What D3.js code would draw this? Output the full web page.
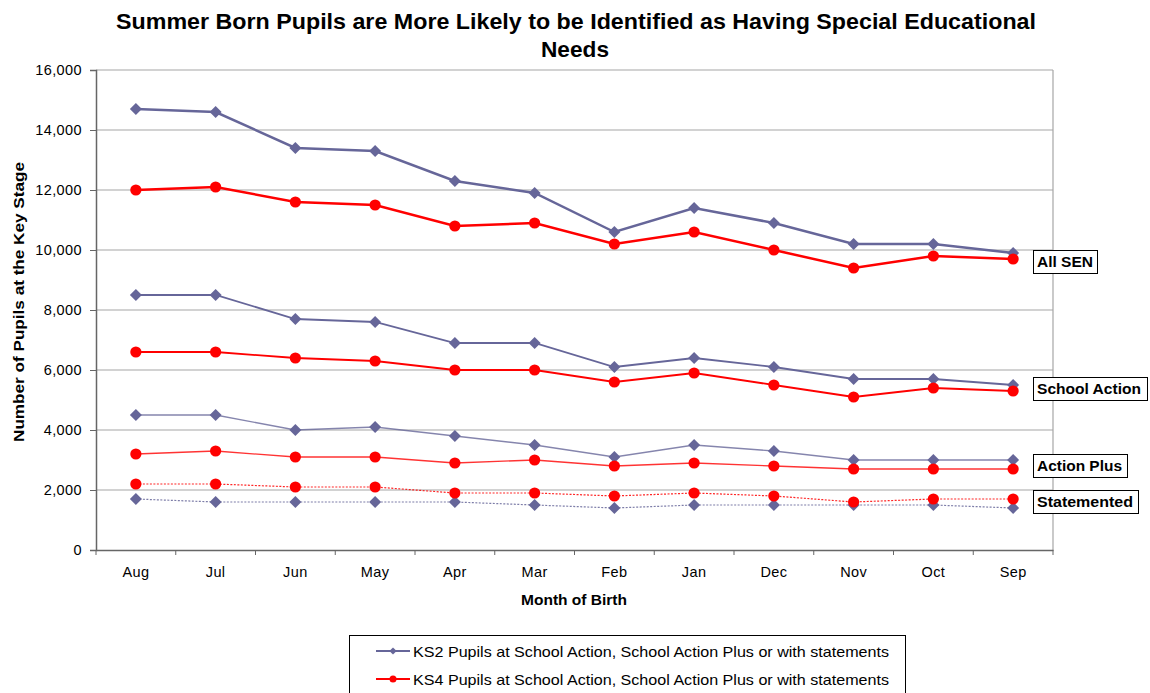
<!DOCTYPE html>
<html><head><meta charset="utf-8">
<script src="https://cdn.jsdelivr.net/npm/d3@7/dist/d3.min.js"></script>
<style>body{margin:0;background:#fff;font-family:"Liberation Sans",Arial,sans-serif;}</style>
</head><body><svg id="c" width="1150" height="693"></svg>
<script>
const months = ["Aug","Jul","Jun","May","Apr","Mar","Feb","Jan","Dec","Nov","Oct","Sep"];
const yTicks = [0,2000,4000,6000,8000,10000,12000,14000,16000];
const ks2AllSEN       = [14700,14600,13400,13300,12300,11900,10600,11400,10900,10200,10200,9900];
const ks4AllSEN       = [12000,12100,11600,11500,10800,10900,10200,10600,10000,9400,9800,9700];
const ks2SchoolAction = [8500,8500,7700,7600,6900,6900,6100,6400,6100,5700,5700,5500];
const ks4SchoolAction = [6600,6600,6400,6300,6000,6000,5600,5900,5500,5100,5400,5300];
const ks2ActionPlus   = [4500,4500,4000,4100,3800,3500,3100,3500,3300,3000,3000,3000];
const ks4ActionPlus   = [3200,3300,3100,3100,2900,3000,2800,2900,2800,2700,2700,2700];
const ks2Statemented  = [1700,1600,1600,1600,1600,1500,1400,1500,1500,1500,1500,1400];
const ks4Statemented  = [2200,2200,2100,2100,1900,1900,1800,1900,1800,1600,1700,1700];
const groupLabels = ["All SEN","School Action","Action Plus","Statemented"];
const legendLabels = ["KS2 Pupils at School Action, School Action Plus or with statements",
                      "KS4 Pupils at School Action, School Action Plus or with statements"];

const BLUE = "#666699", RED = "#ff0000";
const svg = d3.select("#c");
const L = 96, R = 1053, T = 70, B = 550;
const x = d3.scaleBand().domain(months).range([L, R]);
const y = d3.scaleLinear().domain([0, 16000]).range([B, T]);

// title
svg.append("text").attr("x", 576).attr("y", 29).attr("text-anchor","middle")
  .attr("textLength", 920).attr("lengthAdjust","spacingAndGlyphs")
  .style("font-weight","bold").style("font-size","22px").text("Summer Born Pupils are More Likely to be Identified as Having Special Educational");
svg.append("text").attr("x", 575).attr("y", 57).attr("text-anchor","middle")
  .attr("textLength", 68).attr("lengthAdjust","spacingAndGlyphs")
  .style("font-weight","bold").style("font-size","22px").text("Needs");

// gridlines
svg.append("g").selectAll("line").data(yTicks.filter(d => d > 0)).join("line")
  .attr("x1", L).attr("x2", R).attr("y1", d => y(d)).attr("y2", d => y(d))
  .attr("stroke", "#a6a6a6").attr("stroke-width", 1.2);
svg.append("line").attr("x1", R).attr("x2", R).attr("y1", T).attr("y2", B).attr("stroke", "#a6a6a6").attr("stroke-width", 1.2);

// y axis
const yAx = svg.append("g").attr("transform", `translate(${L},0)`)
  .call(d3.axisLeft(y).tickValues(yTicks).tickSize(6).tickPadding(8).tickFormat(d3.format(",")));
yAx.select(".domain").attr("stroke", "#666").attr("stroke-width", 1.5);
yAx.selectAll(".tick line").attr("stroke", "#666");
yAx.selectAll("text").style("font-size","14.5px").style("letter-spacing","0.4px")
  .style("font-family","Liberation Sans, Arial").attr("fill","#000");

// x axis
const xAx = svg.append("g").attr("transform", `translate(0,${B})`)
  .call(d3.axisBottom(x).tickSize(0).tickPadding(17));
xAx.select(".domain").attr("stroke", "#666").attr("stroke-width", 1.5);
xAx.selectAll("text").style("font-size","14.5px").style("letter-spacing","0.4px")
  .style("font-family","Liberation Sans, Arial").attr("fill","#000");
xAx.selectAll("line.bnd").data(d3.range(months.length + 1)).join("line").attr("class","bnd")
  .attr("x1", i => L + i * x.step()).attr("x2", i => L + i * x.step())
  .attr("y1", 0).attr("y2", 5).attr("stroke", "#666");

// axis titles
svg.append("text").attr("transform", "translate(24,302) rotate(-90)").attr("text-anchor","middle")
  .attr("textLength", 280).attr("lengthAdjust","spacingAndGlyphs")
  .style("font-weight","bold").style("font-size","14px").text("Number of Pupils at the Key Stage");
svg.append("text").attr("x", 574).attr("y", 605).attr("text-anchor","middle")
  .attr("textLength", 106).attr("lengthAdjust","spacingAndGlyphs")
  .style("font-weight","bold").style("font-size","14px").text("Month of Birth");

const series = [
  {v: ks2AllSEN, c: BLUE, m: "d", w: 2.5, dash: null, op: 1},
  {v: ks4AllSEN, c: RED, m: "c", w: 2.5, dash: null, op: 1},
  {v: ks2SchoolAction, c: BLUE, m: "d", w: 1.8, dash: null, op: 1},
  {v: ks4SchoolAction, c: RED, m: "c", w: 1.8, dash: null, op: 1},
  {v: ks2ActionPlus, c: BLUE, m: "d", w: 1.3, dash: null, op: 0.8},
  {v: ks4ActionPlus, c: RED, m: "c", w: 1.3, dash: null, op: 0.8},
  {v: ks2Statemented, c: BLUE, m: "d", w: 1.2, dash: "2,1.5", op: 0.85},
  {v: ks4Statemented, c: RED, m: "c", w: 1.2, dash: "2,1.5", op: 0.85},
];
const line = d3.line().x((d, i) => x(months[i]) + x.bandwidth() / 2).y(d => y(d));
series.forEach(s => {
  svg.append("path").attr("d", line(s.v)).attr("fill","none").attr("stroke", s.c)
    .attr("stroke-width", s.w).attr("stroke-dasharray", s.dash).attr("opacity", s.op);
  const g = svg.append("g");
  s.v.forEach((d, i) => {
    const cx = x(months[i]) + x.bandwidth() / 2, cy = y(d);
    if (s.m === "d") {
      g.append("path").attr("d", d3.symbol().type(d3.symbolSquare).size(72)())
        .attr("transform", `translate(${cx},${cy}) rotate(45)`).attr("fill", s.c);
    } else {
      g.append("circle").attr("cx", cx).attr("cy", cy).attr("r", 5.6).attr("fill", s.c);
    }
  });
});

// group labels
const lblY = [262, 389, 466, 502];
const lblW = [64, 114, 94, 105];
const lblTW = [56, 104, 85, 96];
groupLabels.forEach((t, i) => {
  svg.append("rect").attr("x", 1033.5).attr("y", lblY[i] - 11.5).attr("width", lblW[i]).attr("height", 23)
    .attr("fill", "#fff").attr("stroke", "#000").attr("stroke-width", 1);
  svg.append("text").attr("x", 1037).attr("y", lblY[i] + 5).style("font-weight","bold")
    .attr("textLength", lblTW[i]).attr("lengthAdjust","spacingAndGlyphs")
    .style("font-size","14.5px").text(t);
});

// legend
svg.append("rect").attr("x", 349.5).attr("y", 635.5).attr("width", 556).attr("height", 70)
  .attr("fill","#fff").attr("stroke","#000").attr("stroke-width",1);
const legC = [BLUE, RED], legM = ["d","c"], legRows = [651, 679];
legendLabels.forEach((t, i) => {
  const yy = legRows[i];
  svg.append("line").attr("x1", 376).attr("x2", 410).attr("y1", yy).attr("y2", yy).attr("stroke", legC[i]).attr("stroke-width", 2);
  if (legM[i] === "d") {
    svg.append("path").attr("d", d3.symbol().type(d3.symbolSquare).size(26)()).attr("transform", `translate(393,${yy}) rotate(45)`).attr("fill", legC[i]);
  } else {
    svg.append("circle").attr("cx", 393).attr("cy", yy).attr("r", 3.5).attr("fill", legC[i]);
  }
  svg.append("text").attr("x", 413).attr("y", yy + 5.5).style("font-size","15px")
    .attr("textLength", 476).attr("lengthAdjust","spacingAndGlyphs").text(t);
});
</script></body></html>
